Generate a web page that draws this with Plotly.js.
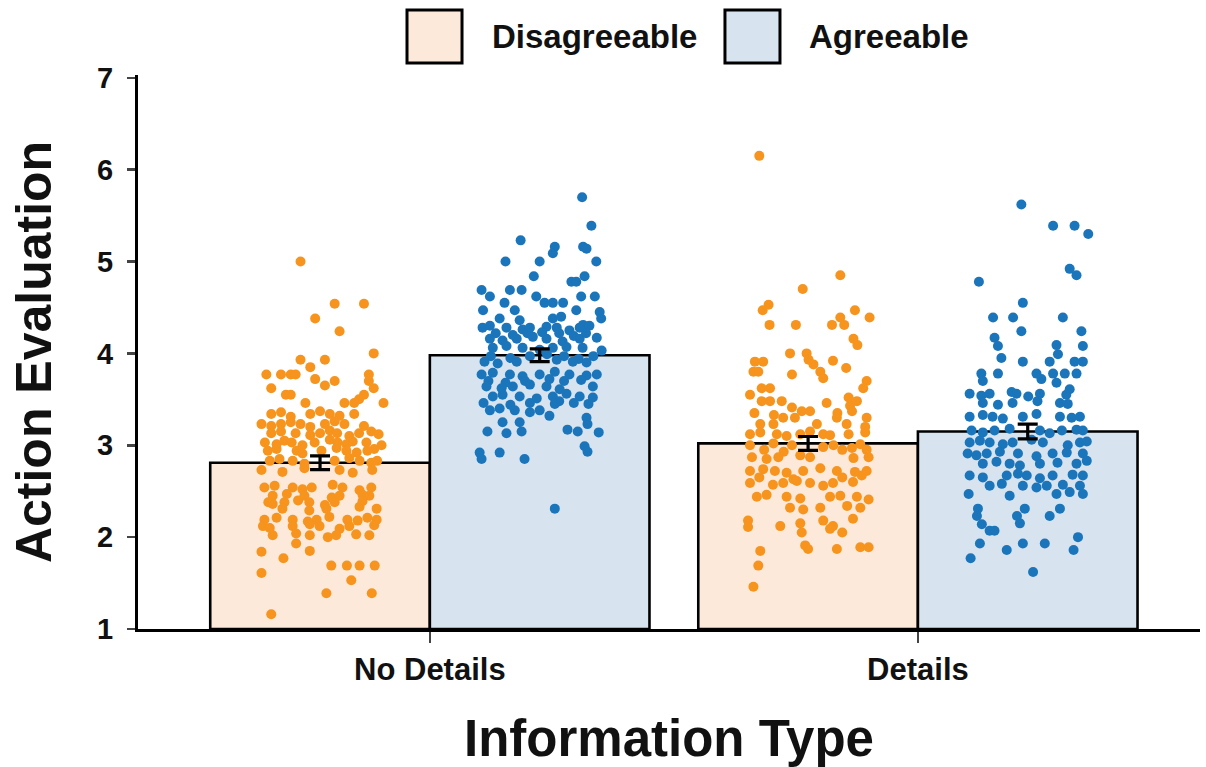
<!DOCTYPE html>
<html>
<head>
<meta charset="utf-8">
<script src="https://cdn.plot.ly/plotly-3.0.1.min.js"></script>
<style>
  html, body { margin: 0; padding: 0; background: #ffffff; }
  #chart { width: 1206px; height: 767px; }
</style>
</head>
<body>
<div id="chart"></div>
<script>
// ---------- data ----------
const categories = ["No Details", "Details"];
const groups = ["Disagreeable", "Agreeable"];

const disagreeableMeans = [2.81, 3.02];
const agreeableMeans = [3.98, 3.15];
const disagreeableErr = [0.075, 0.075];
const agreeableErr = [0.07, 0.08];

// individual responses (jitter in category units, value on the 1-7 scale)
const noDetailsDisJitter = [
  -0.04,0.03,0.09,-0.01,0.04,0.11,-0.04,0.01,-0.11,-0.08,-0.06,-0.05,-0.02,-0.01,0.01,0.03,0.10,0.10,0.11,-0.10,-0.07,-0.06,0.09,0.08,0.13,-0.03,0.05,0.07,
  -0.10,-0.08,-0.06,-0.02,0.00,0.02,0.04,0.07,
  -0.12,-0.10,-0.08,-0.06,-0.04,-0.02,0.01,0.03,0.05,0.09,
  -0.10,-0.08,-0.05,-0.02,0.00,0.02,0.035,0.06,0.08,0.105,0.12,
  -0.113,-0.089,-0.073,-0.058,-0.036,-0.011,0.02,0.036,0.054,0.067,0.095,0.126,
  -0.107,-0.089,-0.048,-0.036,0.003,0.034,0.054,0.075,0.097,0.111,
  -0.103,-0.083,-0.056,-0.032,0.03,0.06,0.081,0.105,0.117,
  -0.12,-0.077,-0.032,0.04,0.067,0.107,
  -0.114,-0.093,-0.056,-0.036,-0.017,0.026,0.046,0.081,0.105,
  -0.097,-0.068,-0.032,0.024,0.04,0.087,0.101,
  -0.106,-0.097,-0.073,-0.045,-0.022,0.01,0.03,0.087,
  -0.077,-0.022,0.013,0.081,0.116,
  -0.114,-0.089,-0.056,-0.025,-0.007,0.019,0.056,0.077,0.116,0.097,
  -0.117,-0.103,-0.056,-0.021,-0.001,0.04,0.06,0.111,
  -0.097,-0.049,-0.021,0.016,0.033,0.074,0.101,
  -0.12,-0.075,-0.049,-0.021,0.023,0.055,0.081,0.112,0.064,0.013,0.106,-0.10,-0.12
];
const noDetailsDisValues = [
  5.00,4.54,4.54,4.38,4.24,4.00,3.93,3.93,3.77,3.77,3.77,3.77,3.85,3.72,3.65,3.70,3.77,3.70,3.62,3.62,3.55,3.55,3.55,3.50,3.46,3.46,3.46,3.46,
  3.34,3.36,3.31,3.34,3.37,3.34,3.32,3.34,
  3.23,3.21,3.23,3.25,3.23,3.20,3.23,3.26,3.23,3.21,
  3.13,3.15,3.13,3.11,3.13,3.16,3.13,3.10,3.13,3.15,3.12,
  3.03,3.01,3.05,3.03,3.00,3.03,3.06,3.03,3.01,3.04,3.03,3.00,
  2.94,2.96,2.94,2.91,2.94,2.97,2.94,2.92,2.94,2.96,
  2.83,2.85,2.83,2.80,2.83,2.86,2.83,2.81,2.83,
  2.73,2.71,2.75,2.73,2.70,2.73,
  2.54,2.56,2.54,2.52,2.54,2.57,2.54,2.51,2.54,
  2.45,2.47,2.45,2.43,2.45,2.46,2.45,
  2.38,2.36,2.38,2.40,2.38,2.35,2.38,2.39,
  2.31,2.29,2.31,2.33,2.31,
  2.19,2.21,2.19,2.17,2.19,2.22,2.19,2.18,2.19,2.21,
  2.12,2.10,2.12,2.14,2.12,2.09,2.12,2.13,
  2.02,2.04,2.02,2.00,2.02,2.03,2.02,
  1.84,1.77,1.93,1.85,1.69,1.69,1.69,1.69,1.53,1.39,1.39,1.16,1.61
];

const noDetailsAgrJitter = [
  0.087,0.106,-0.039,0.031,0.027,0.089,0.096,-0.070,0.000,0.116,-0.012,0.092,0.065,0.075,-0.119,-0.061,-0.037,-0.102,-0.007,0.010,0.027,0.048,0.085,0.113,-0.116,-0.072,-0.051,0.075,0.123,
  -0.082,-0.041,0.027,0.044,0.126,0.089,
  -0.117,-0.102,-0.068,-0.035,-0.020,0.014,0.035,0.061,0.082,0.102,
  -0.09,-0.055,-0.025,0.005,0.04,0.07,0.095,
  -0.102,-0.076,-0.047,-0.014,0.014,0.047,0.082,0.117,
  -0.096,-0.068,-0.035,0.000,0.027,0.055,0.088,0.127,
  -0.10,-0.06,-0.02,0.015,0.05,0.08,0.11,
  -0.113,-0.086,-0.047,0.035,0.068,0.096,
  -0.119,-0.096,-0.061,-0.035,0.000,0.031,0.061,0.096,0.117,
  -0.105,-0.07,-0.03,0.02,0.05,0.085,
  -0.109,-0.078,-0.055,-0.020,0.014,0.041,0.109,
  -0.096,-0.076,-0.041,-0.006,0.027,0.055,0.082,0.109,
  -0.115,-0.06,-0.02,0.04,0.07,0.10,
  -0.102,-0.082,-0.051,-0.020,0.000,0.020,0.031,
  -0.076,-0.041,0.096,0.098,
  -0.107,-0.068,-0.037,0.057,0.078,0.121,
  0.092,0.098,-0.123,-0.119,-0.082,-0.031,0.031
];
const noDetailsAgrValues = [
  5.70,5.39,5.23,5.16,5.09,5.16,5.14,5.00,5.00,5.00,4.84,4.84,4.78,4.78,4.69,4.69,4.69,4.62,4.62,4.55,4.55,4.55,4.62,4.62,4.47,4.55,4.47,4.47,4.45,
  4.38,4.36,4.38,4.40,4.38,4.31,
  4.28,4.30,4.28,4.26,4.28,4.29,4.28,4.25,4.28,4.30,
  4.22,4.20,4.22,4.23,4.22,4.19,4.22,
  4.16,4.14,4.16,4.18,4.16,4.13,4.16,4.17,
  4.06,4.08,4.06,4.04,4.06,4.07,4.06,4.03,
  3.97,3.95,3.97,3.99,3.97,3.94,3.97,
  3.91,3.89,3.91,3.93,3.91,3.90,
  3.77,3.79,3.77,3.75,3.77,3.80,3.77,3.76,3.77,
  3.70,3.68,3.70,3.72,3.70,3.71,
  3.64,3.62,3.64,3.66,3.64,3.61,3.64,
  3.53,3.55,3.53,3.51,3.53,3.56,3.53,3.52,
  3.46,3.44,3.46,3.48,3.46,3.45,
  3.38,3.40,3.38,3.36,3.38,3.32,3.45,
  3.25,3.25,3.30,3.23,
  3.15,3.13,3.15,3.17,3.15,3.14,
  2.99,2.93,2.92,2.85,2.92,2.85,2.31
];

const detailsDisJitter = [
  -0.100,0.066,-0.011,-0.093,-0.081,0.096,0.126,0.066,0.074,-0.079,-0.025,0.049,0.093,0.101,
  -0.037,-0.003,0.001,0.011,-0.109,-0.092,-0.112,-0.102,
  -0.033,0.025,0.031,0.051,0.078,0.120,0.113,
  -0.095,-0.078,-0.119,-0.095,-0.078,
  -0.054,-0.033,-0.013,0.004,0.038,0.083,0.086,0.100,
  -0.11,-0.07,0.06,0.09,
  -0.098,-0.071,-0.051,-0.027,0.018,0.059,0.079,0.120,0.117,
  -0.119,-0.098,-0.064,-0.044,-0.016,0.004,0.031,0.045,0.083,0.117,
  -0.119,-0.071,-0.033,0.031,0.052,0.107,
  -0.09,-0.05,0.07,0.09,0.12,
  -0.115,-0.085,-0.061,-0.016,0.004,0.093,0.124,
  -0.119,-0.092,-0.068,-0.044,-0.010,0.025,0.059,0.096,0.120,
  -0.10,-0.03,0.07,0.11,
  -0.119,-0.072,-0.051,-0.023,0.004,0.031,0.051,0.092,
  -0.105,-0.085,-0.044,-0.016,0.045,0.066,0.100,0.124,
  -0.037,-0.010,0.025,0.080,0.107,
  -0.123,-0.123,-0.057,-0.016,0.031,0.051,0.070,0.092,
  -0.013,0.045,
  -0.006,0.000,0.059,0.107,0.124,
  -0.098,-0.102,-0.112
];
const detailsDisValues = [
  6.15,4.85,4.70,4.47,4.53,4.47,4.39,4.39,4.31,4.31,4.31,4.31,4.16,4.09,
  4.00,4.00,3.93,3.88,3.91,3.91,3.80,3.80,
  3.77,3.80,3.73,3.92,3.84,3.70,3.62,
  3.62,3.62,3.55,3.48,3.48,
  3.48,3.41,3.37,3.37,3.46,3.52,3.43,3.48,
  3.35,3.33,3.35,3.37,
  3.23,3.23,3.30,3.30,3.23,3.30,3.23,3.30,3.20,
  3.12,3.14,3.12,3.10,3.12,3.15,3.12,3.11,3.12,3.14,
  3.00,3.02,3.00,2.98,3.00,3.01,
  2.95,2.93,2.95,2.97,2.95,
  2.87,2.85,2.87,2.89,2.87,2.86,2.87,
  2.72,2.74,2.72,2.70,2.72,2.75,2.72,2.71,2.72,
  2.65,2.63,2.65,2.67,
  2.59,2.57,2.59,2.61,2.59,2.56,2.59,2.60,
  2.44,2.46,2.44,2.42,2.44,2.45,2.44,2.41,
  2.32,2.30,2.32,2.34,2.32,
  2.18,2.11,2.12,2.15,2.18,2.12,2.05,2.20,
  2.05,2.09,
  1.91,1.87,1.87,1.89,1.89,
  1.85,1.69,1.46
];

const detailsAgrJitter = [
  -0.013,0.052,0.096,0.124,0.086,0.100,-0.100,-0.010,-0.071,-0.030,0.072,-0.013,0.110,
  -0.068,-0.061,-0.054,0.059,0.113,0.062,
  -0.010,0.045,0.096,0.113,
  -0.095,-0.061,0.018,0.052,0.076,0.100,
  -0.092,0.028,0.059,0.086,
  -0.119,-0.095,-0.078,-0.033,-0.023,0.001,0.025,0.079,
  -0.092,-0.061,-0.031,0.020,0.066,0.082,
  -0.119,-0.092,-0.072,-0.051,-0.010,0.018,0.066,0.090,0.107,
  -0.115,-0.092,-0.068,-0.037,0.025,0.045,0.070,0.100,0.113,
  -0.119,-0.098,-0.078,-0.051,-0.031,0.008,0.031,0.082,0.107,0.121,
  -0.123,-0.105,-0.084,-0.057,-0.020,0.018,0.051,0.080,0.113,
  -0.092,-0.064,-0.037,-0.016,0.025,0.061,0.100,0.121,
  -0.119,-0.092,-0.043,-0.020,-0.002,0.025,0.051,0.092,0.113,
  -0.078,-0.053,-0.010,0.018,0.039,0.072,0.107,
  -0.121,-0.037,0.059,0.086,0.113,
  -0.102,-0.104,-0.094,-0.078,-0.068,-0.022,-0.016,-0.006,0.045,0.066,
  -0.098,-0.010,0.035,0.103,-0.043,0.094,-0.117,0.011
];
const detailsAgrValues = [
  5.62,5.39,5.39,5.30,4.92,4.85,4.78,4.55,4.39,4.39,4.39,4.24,4.24,
  4.17,4.08,3.95,4.09,4.08,3.99,
  3.91,3.91,3.91,3.91,
  3.78,3.78,3.78,3.78,3.78,3.78,
  3.70,3.72,3.68,3.61,
  3.56,3.54,3.56,3.58,3.56,3.53,3.56,3.55,
  3.46,3.44,3.46,3.48,3.46,3.45,
  3.31,3.33,3.31,3.29,3.31,3.34,3.31,3.30,3.31,
  3.16,3.14,3.16,3.18,3.16,3.13,3.16,3.17,3.16,
  3.03,3.05,3.03,3.01,3.03,3.06,3.03,3.00,3.03,3.04,
  2.91,2.89,2.91,2.93,2.91,2.88,2.91,2.92,2.91,
  2.80,2.82,2.80,2.78,2.80,2.81,2.80,2.83,
  2.67,2.65,2.67,2.69,2.67,2.64,2.67,2.68,2.67,
  2.56,2.58,2.56,2.54,2.56,2.57,2.56,
  2.47,2.45,2.47,2.49,2.47,
  2.31,2.23,2.14,2.07,2.07,2.23,2.15,2.31,2.23,2.31,
  1.93,1.93,1.93,2.00,1.86,1.86,1.77,1.62
];

// ---------- styling ----------
const orange = "#F7941E";
const blue = "#1B75BB";
const peachFill = "#FCE9D9";
const blueFill = "#D7E4F0";
const FONT = "Liberation Sans, Arial, sans-serif";
const catIdx = [0, 1];
const half = 0.225;

function pts(cat, sign, jit, vals, color, name) {
  return {
    type: "scatter", mode: "markers", name: name, showlegend: false,
    x: jit.map(j => cat + sign * half + j), y: vals,
    marker: { color: color, size: 10, line: { width: 0 } },
    hoverinfo: "y"
  };
}

const traces = [
  { type: "bar", name: groups[0], x: catIdx, y: disagreeableMeans.map(v => v - 1), base: 1,
    marker: { color: peachFill, line: { color: "#000", width: 2.6 } }, showlegend: false },
  { type: "bar", name: groups[1], x: catIdx, y: agreeableMeans.map(v => v - 1), base: 1,
    marker: { color: blueFill, line: { color: "#000", width: 2.6 } }, showlegend: false },
  pts(0, -1, noDetailsDisJitter, noDetailsDisValues, orange, groups[0]),
  pts(0, 1, noDetailsAgrJitter, noDetailsAgrValues, blue, groups[1]),
  pts(1, -1, detailsDisJitter, detailsDisValues, orange, groups[0]),
  pts(1, 1, detailsAgrJitter, detailsAgrValues, blue, groups[1]),
  { type: "scatter", mode: "markers", showlegend: false, hoverinfo: "skip",
    x: catIdx.map(c => c - half), y: disagreeableMeans,
    marker: { size: 1, opacity: 0 },
    error_y: { type: "data", array: disagreeableErr, color: "#000", thickness: 3.2, width: 10 } },
  { type: "scatter", mode: "markers", showlegend: false, hoverinfo: "skip",
    x: catIdx.map(c => c + half), y: agreeableMeans,
    marker: { size: 1, opacity: 0 },
    error_y: { type: "data", array: agreeableErr, color: "#000", thickness: 3.2, width: 10 } }
];

const layout = {
  width: 1206, height: 767,
  margin: { l: 138, r: 6, t: 75, b: 138 },
  paper_bgcolor: "#ffffff", plot_bgcolor: "#ffffff",
  barmode: "group", bargap: 0.1, bargroupgap: 0,
  showlegend: false,
  font: { family: FONT, color: "#111" },
  xaxis: {
    range: [-0.598, 1.578],
    tickmode: "array", tickvals: catIdx, ticktext: categories,
    showgrid: false, zeroline: false,
    showline: true, linecolor: "#000", linewidth: 3,
    ticks: "outside", ticklen: 11, tickwidth: 2.5, tickcolor: "#444",
    tickfont: { family: FONT, size: 31, weight: "bold", color: "#111" },
    title: { text: "Information Type", standoff: 36,
             font: { family: FONT, size: 51, weight: "bold", color: "#111" } }
  },
  yaxis: {
    range: [1, 7.03],
    tickmode: "array", tickvals: [1, 2, 3, 4, 5, 6, 7],
    showgrid: false, zeroline: false,
    showline: true, linecolor: "#000", linewidth: 3,
    ticks: "outside", ticklen: 8, tickwidth: 2.5, tickcolor: "#444",
    ticklabelstandoff: 8,
    tickfont: { family: FONT, size: 29, weight: "bold", color: "#111" },
    title: { text: "Action Evaluation", standoff: 30,
             font: { family: FONT, size: 50, weight: "bold", color: "#111" } }
  },
  shapes: [
    { type: "rect", xref: "paper", yref: "paper", x0: 0.2533, x1: 0.3051, y0: 1.0217, y1: 1.1173,
      fillcolor: peachFill, line: { color: "#000", width: 3 } },
    { type: "rect", xref: "paper", yref: "paper", x0: 0.5527, x1: 0.6045, y0: 1.0217, y1: 1.1173,
      fillcolor: blueFill, line: { color: "#000", width: 3 } }
  ],
  annotations: [
    { xref: "paper", yref: "paper", x: 0.3315, y: 1.0686, xanchor: "left", yanchor: "middle",
      text: groups[0], showarrow: false, font: { family: FONT, size: 33, weight: "bold", color: "#111" } },
    { xref: "paper", yref: "paper", x: 0.630, y: 1.0686, xanchor: "left", yanchor: "middle",
      text: groups[1], showarrow: false, font: { family: FONT, size: 33, weight: "bold", color: "#111" } }
  ]
};

Plotly.newPlot("chart", traces, layout, { displayModeBar: false, staticPlot: true });
</script>
</body>
</html>
